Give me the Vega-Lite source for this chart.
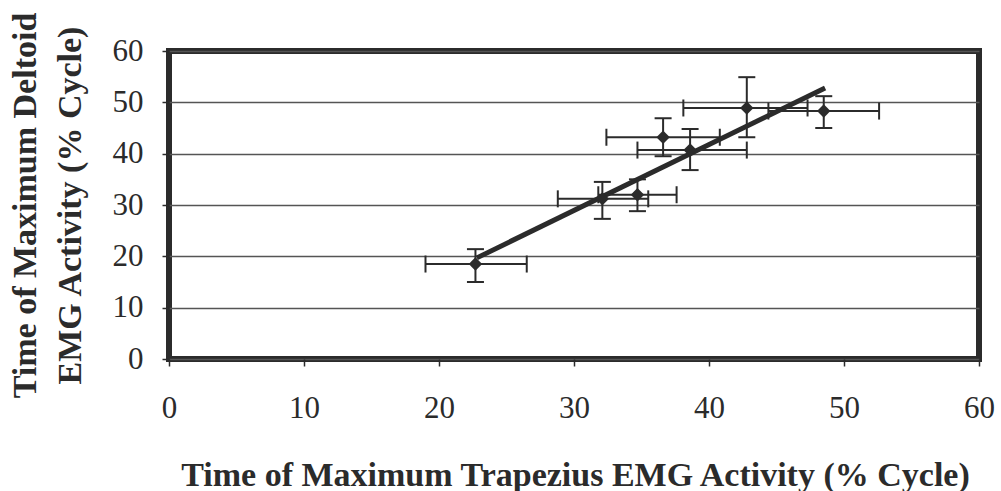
{
  "$schema": "https://vega.github.io/schema/vega-lite/v6.json",
  "width": 810,
  "height": 308,
  "autosize": {"type": "none"},
  "padding": {"left": 169, "top": 51, "right": 22, "bottom": 132},
  "background": "white",
  "datasets": {
    "pts": [
      {"trap": 22.7, "delt": 18.5, "trapLo": 19.0, "trapHi": 26.5, "deltLo": 15.0, "deltHi": 21.4},
      {"trap": 32.1, "delt": 31.2, "trapLo": 28.8, "trapHi": 35.5, "deltLo": 27.3, "deltHi": 34.5},
      {"trap": 34.7, "delt": 32.0, "trapLo": 31.8, "trapHi": 37.6, "deltLo": 28.8, "deltHi": 35.0},
      {"trap": 36.6, "delt": 43.2, "trapLo": 32.4, "trapHi": 40.8, "deltLo": 39.5, "deltHi": 46.9},
      {"trap": 38.6, "delt": 40.7, "trapLo": 34.7, "trapHi": 42.8, "deltLo": 36.8, "deltHi": 44.8},
      {"trap": 42.8, "delt": 48.9, "trapLo": 38.1, "trapHi": 47.3, "deltLo": 43.2, "deltHi": 54.9},
      {"trap": 48.5, "delt": 48.3, "trapLo": 44.4, "trapHi": 52.6, "deltLo": 45.0, "deltHi": 51.2}
    ],
    "fit": [
      {"trap": 22.8, "delt": 19.7},
      {"trap": 48.6, "delt": 52.8}
    ]
  },
  "config": {
    "view": {"stroke": "#2b2b2b", "strokeWidth": 6},
    "font": "Liberation Serif",
    "axis": {
      "labelFont": "Liberation Serif",
      "labelFontSize": 31,
      "labelColor": "#2b2b2b",
      "titleFont": "Liberation Serif",
      "titleFontSize": 34,
      "titleFontWeight": "bold",
      "titleColor": "#2b2b2b",
      "tickColor": "#2b2b2b",
      "tickWidth": 1.5,
      "tickSize": 7,
      "domain": false
    },
    "axisX": {"grid": false},
    "axisY": {"grid": true, "gridColor": "#555555", "gridWidth": 1.5, "gridOpacity": 1}
  },
  "layer": [
    {
      "data": {"name": "fit"},
      "mark": {"type": "line", "color": "#2b2b2b", "strokeWidth": 5},
      "encoding": {
        "x": {
          "field": "trap", "type": "quantitative",
          "title": "Time of Maximum Trapezius EMG Activity (% Cycle)",
          "scale": {"domain": [0, 60], "nice": false, "zero": false},
          "axis": {
            "values": [0, 10, 20, 30, 40, 50, 60],
            "labelPadding": 27,
            "labelFlush": false,
            "labelOverlap": false,
            "titleX": 406,
            "titleY": 126,
            "titleAlign": "center",
            "titleBaseline": "alphabetic"
          }
        },
        "y": {
          "field": "delt", "type": "quantitative",
          "title": ["Time of Maximum Deltoid", "EMG Activity (% Cycle)"],
          "scale": {"domain": [0, 60], "nice": false, "zero": false},
          "axis": {
            "values": [0, 10, 20, 30, 40, 50, 60],
            "labelPadding": 19,
            "labelFlush": false,
            "labelOverlap": false,
            "titleAngle": -90,
            "titleX": -134,
            "titleY": 154,
            "titleAlign": "center",
            "titleBaseline": "alphabetic",
            "titleLineHeight": 45
          }
        }
      }
    },
    {
      "data": {"name": "pts"},
      "mark": {"type": "rule", "color": "#2b2b2b", "strokeWidth": 2},
      "encoding": {
        "x": {"field": "trapLo", "type": "quantitative", "title": "Time of Maximum Trapezius EMG Activity (% Cycle)"},
        "x2": {"field": "trapHi"},
        "y": {"field": "delt", "type": "quantitative", "title": ["Time of Maximum Deltoid", "EMG Activity (% Cycle)"]}
      }
    },
    {
      "data": {"name": "pts"},
      "mark": {"type": "rule", "color": "#2b2b2b", "strokeWidth": 2},
      "encoding": {
        "x": {"field": "trap", "type": "quantitative", "title": "Time of Maximum Trapezius EMG Activity (% Cycle)"},
        "y": {"field": "deltLo", "type": "quantitative", "title": ["Time of Maximum Deltoid", "EMG Activity (% Cycle)"]},
        "y2": {"field": "deltHi"}
      }
    },
    {
      "data": {"name": "pts"},
      "mark": {"type": "tick", "orient": "vertical", "color": "#2b2b2b", "size": 17, "thickness": 2, "opacity": 1},
      "encoding": {
        "x": {"field": "trapLo", "type": "quantitative", "title": "Time of Maximum Trapezius EMG Activity (% Cycle)"},
        "y": {"field": "delt", "type": "quantitative", "title": ["Time of Maximum Deltoid", "EMG Activity (% Cycle)"]}
      }
    },
    {
      "data": {"name": "pts"},
      "mark": {"type": "tick", "orient": "vertical", "color": "#2b2b2b", "size": 17, "thickness": 2, "opacity": 1},
      "encoding": {
        "x": {"field": "trapHi", "type": "quantitative", "title": "Time of Maximum Trapezius EMG Activity (% Cycle)"},
        "y": {"field": "delt", "type": "quantitative", "title": ["Time of Maximum Deltoid", "EMG Activity (% Cycle)"]}
      }
    },
    {
      "data": {"name": "pts"},
      "mark": {"type": "tick", "orient": "horizontal", "color": "#2b2b2b", "size": 17, "thickness": 2, "opacity": 1},
      "encoding": {
        "x": {"field": "trap", "type": "quantitative", "title": "Time of Maximum Trapezius EMG Activity (% Cycle)"},
        "y": {"field": "deltLo", "type": "quantitative", "title": ["Time of Maximum Deltoid", "EMG Activity (% Cycle)"]}
      }
    },
    {
      "data": {"name": "pts"},
      "mark": {"type": "tick", "orient": "horizontal", "color": "#2b2b2b", "size": 17, "thickness": 2, "opacity": 1},
      "encoding": {
        "x": {"field": "trap", "type": "quantitative", "title": "Time of Maximum Trapezius EMG Activity (% Cycle)"},
        "y": {"field": "deltHi", "type": "quantitative", "title": ["Time of Maximum Deltoid", "EMG Activity (% Cycle)"]}
      }
    },
    {
      "data": {"name": "pts"},
      "mark": {"type": "point", "shape": "diamond", "filled": true, "color": "#2b2b2b", "size": 180, "opacity": 1},
      "encoding": {
        "x": {"field": "trap", "type": "quantitative", "title": "Time of Maximum Trapezius EMG Activity (% Cycle)"},
        "y": {"field": "delt", "type": "quantitative", "title": ["Time of Maximum Deltoid", "EMG Activity (% Cycle)"]}
      }
    }
  ]
}
